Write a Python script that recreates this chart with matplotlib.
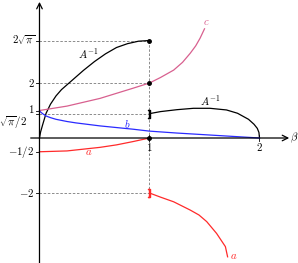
import numpy as np
import matplotlib
matplotlib.use("Agg")
import matplotlib.pyplot as plt

plt.rcParams['mathtext.fontset'] = 'cm'
plt.rcParams['font.family'] = 'serif'

SQPI = np.sqrt(np.pi)

# A^{-1}, first branch (0 -> 1)
ainv1_x = [0, 0.01, 0.03, 0.06, 0.1, 0.15, 0.2, 0.28, 0.4, 0.5, 0.6, 0.7, 0.8, 0.9, 1.0]
ainv1_y = [0, 0.22, 0.5, 0.9, 1.23, 1.53, 1.76, 2.04, 2.46, 2.78, 3.06, 3.29, 3.43, 3.52, 3.545]
# A^{-1}, second branch (1 -> 2)
ainv2_x = [1.0, 1.1, 1.25, 1.4, 1.55, 1.7, 1.8, 1.9, 1.95, 1.98, 1.995, 2.0]
ainv2_y = [0.886, 0.96, 1.03, 1.08, 1.08, 1.02, 0.9, 0.68, 0.5, 0.35, 0.2, 0.0]
# c
c_x = [0, 0.25, 0.55, 0.85, 1.0, 1.1, 1.22, 1.3, 1.37, 1.42, 1.46, 1.5]
c_y = [1.0, 1.16, 1.44, 1.81, 2.0, 2.2, 2.47, 2.75, 3.08, 3.35, 3.63, 3.97]
# b
b_x = [0, 0.03, 0.06, 0.1, 0.15, 0.25, 0.33, 0.55, 0.85, 1.0, 1.25, 1.5, 1.75, 2.0]
b_y = [0.98, 0.88, 0.8, 0.74, 0.68, 0.6, 0.55, 0.44, 0.32, 0.25, 0.18, 0.12, 0.06, 0.0]
# a, both branches
a1_x = [0, 0.25, 0.55, 0.7, 0.85, 1.0]
a1_y = [-0.5, -0.47, -0.34, -0.25, -0.13, 0.0]
a2_x = [1.0, 1.1, 1.22, 1.37, 1.45, 1.52, 1.61, 1.69, 1.71]
a2_y = [-2.0, -2.15, -2.32, -2.62, -2.8, -3.04, -3.47, -3.95, -4.32]

ytick_vals = [2 * SQPI, 2, 1, SQPI / 2, -0.5, -2]
dash_levels = [2 * SQPI, 2, SQPI / 2, -2]

fig = plt.figure(figsize=(2.98, 2.63), dpi=100)
ax = fig.add_axes([0, 0, 1, 1])
ax.set_xlim(-0.359, 2.35)
ax.set_ylim(-4.545, 5.018)
ax.axis('off')

dash_kw = dict(color='#7a7a7a', lw=0.6, dashes=(3, 2))
for lv in dash_levels:
    ax.plot([0, 1], [lv, lv], **dash_kw)
ax.plot([1, 1], [-2, 2 * SQPI], **dash_kw)

# axes with arrows
ax.annotate('', xy=(2.27, 0), xytext=(-0.08, 0),
            arrowprops=dict(arrowstyle='->', lw=0.9, color='black', shrinkA=0, shrinkB=0))
ax.annotate('', xy=(0, 4.95), xytext=(0, -4.6),
            arrowprops=dict(arrowstyle='->', lw=0.9, color='black', shrinkA=0, shrinkB=0))

for v in ytick_vals:
    ax.plot([-0.03, 0], [v, v], color='black', lw=0.6)
for v in [1, 2]:
    ax.plot([v, v], [-0.1, 0.1], color='black', lw=0.6)

lw = 0.9
ax.plot(ainv1_x, ainv1_y, color='black', lw=lw)
ax.plot(ainv2_x, ainv2_y, color='black', lw=lw)
ax.plot(c_x, c_y, color='#d8608f', lw=lw)
ax.plot(b_x, b_y, color='#2a2aff', lw=lw)
ax.plot(a1_x, a1_y, color='#ff2a2a', lw=lw)
ax.plot(a2_x, a2_y, color='#ff2a2a', lw=lw)

ax.plot([1, 1, 1], [2 * SQPI, 2, 0], 'o', color='black', ms=2.5)
ax.plot([1], [SQPI / 2], marker='$]$', color='black', ms=5.5, lw=0)
ax.plot([1], [-2], marker='$]$', color='#ff2a2a', ms=5.5, lw=0)

fs = 7.8
ax.text(-0.04, 2 * SQPI, r'$2\sqrt{\pi}$', ha='right', va='center', fontsize=fs)
ax.text(-0.04, 2, r'$2$', ha='right', va='center', fontsize=fs)
ax.text(-0.04, 1.05, r'$1$', ha='right', va='center', fontsize=fs)
ax.text(-0.245, 0.6, r'$\sqrt{\pi}/2$', ha='center', va='center', fontsize=fs)
ax.text(-0.05, -0.5, r'$-1/2$', ha='right', va='center', fontsize=fs)
ax.text(-0.05, -2, r'$-2$', ha='right', va='center', fontsize=fs)
ax.text(1, -0.33, r'$1$', ha='center', va='center', fontsize=fs)
ax.text(2, -0.33, r'$2$', ha='center', va='center', fontsize=fs)
ax.text(2.275, 0.02, r'$\beta$', ha='left', va='center', fontsize=fs)

ax.text(0.44, 3.05, r'$A^{-1}$', ha='center', va='center', fontsize=fs)
ax.text(1.55, 1.35, r'$A^{-1}$', ha='center', va='center', fontsize=fs)
ax.text(1.515, 4.2, r'$c$', ha='center', va='center', fontsize=fs, color='#d8608f')
ax.text(0.8, 0.5, r'$b$', ha='center', va='center', fontsize=fs, color='#2a2aff')
ax.text(0.45, -0.52, r'$a$', ha='center', va='center', fontsize=fs, color='#ff2a2a')
ax.text(1.77, -4.3, r'$a$', ha='center', va='center', fontsize=fs, color='#ff2a2a')

fig.savefig('out.png', dpi=100)
